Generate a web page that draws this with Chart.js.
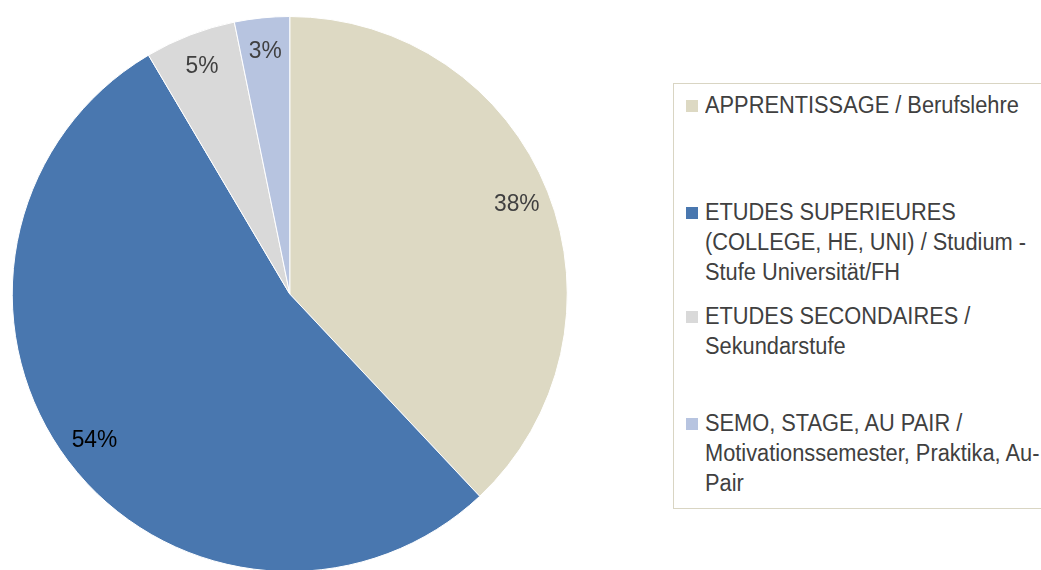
<!DOCTYPE html>
<html>
<head>
<meta charset="utf-8">
<script src="https://cdn.jsdelivr.net/npm/chart.js@4"></script>
<style>
  html, body { margin: 0; padding: 0; width: 1041px; height: 570px; overflow: hidden; background: #fff; }
  #wrap { position: absolute; left: 0; top: 0; width: 600px; height: 600px; }
  #legend { position: absolute; left: 673px; top: 83px; width: 390px; height: 424px;
            border: 1px solid #D9D5C3; box-sizing: content-box;
            font-family: "Liberation Sans", Arial, sans-serif; font-size: 23px; color: #404040; }
  .item { position: absolute; left: 0; width: 100%; }
  .sw { position: absolute; left: 12px; top: 10px; width: 12px; height: 12px; }
  .txt { position: absolute; left: 31px; top: 0; line-height: 30px; white-space: nowrap;
         transform: scaleX(0.948); transform-origin: 0 0; }
</style>
</head>
<body>
<div id="wrap"><canvas id="c"></canvas></div>
<div id="legend"></div>
<script>
// ---- data ----
const categories = [
  ["APPRENTISSAGE / Berufslehre"],
  ["ETUDES SUPERIEURES", "(COLLEGE, HE, UNI) / Studium -", "Stufe Universität/FH"],
  ["ETUDES SECONDAIRES /", "Sekundarstufe"],
  ["SEMO, STAGE, AU PAIR /", "Motivationssemester, Praktika, Au-", "Pair"]
];
const shares = [38.0, 53.5, 5.3, 3.2];
const shareLabels = ["38%", "54%", "5%", "3%"];

// ---- styles ----
const sliceColors = ["#DDD9C3", "#4977AF", "#D9D9D9", "#B7C4E0"];
const labelColors = ["#404040", "#000000", "#404040", "#404040"];
const legendTops = [6, 113, 217, 324];

const sliceLabels = {
  id: 'sliceLabels',
  afterDatasetsDraw(chart) {
    const ctx = chart.ctx;
    const meta = chart.getDatasetMeta(0);
    meta.data.forEach((arc, i) => {
      const p = arc.getProps(['x', 'y', 'startAngle', 'endAngle', 'outerRadius'], true);
      const mid = (p.startAngle + p.endAngle) / 2;
      const r = p.outerRadius * 0.88;
      const lx = p.x + Math.cos(mid) * r;
      const ly = p.y + Math.sin(mid) * r;
      ctx.save();
      ctx.translate(lx, ly);
      ctx.scale(0.93, 1);
      ctx.font = '24.5px "Liberation Sans", Arial, sans-serif';
      ctx.textAlign = 'center';
      ctx.textBaseline = 'middle';
      ctx.fillStyle = labelColors[i];
      ctx.fillText(shareLabels[i], 0, 0);
      ctx.restore();
    });
  }
};

const htmlLegend = {
  id: 'htmlLegend',
  afterUpdate(chart) {
    const box = document.getElementById('legend');
    box.innerHTML = '';
    chart.data.labels.forEach((lines, i) => {
      const item = document.createElement('div');
      item.className = 'item';
      item.style.top = legendTops[i] + 'px';
      const sw = document.createElement('div');
      sw.className = 'sw';
      sw.style.background = chart.data.datasets[0].backgroundColor[i];
      const txt = document.createElement('div');
      txt.className = 'txt';
      lines.forEach((ln, k) => {
        if (k) txt.appendChild(document.createElement('br'));
        txt.appendChild(document.createTextNode(ln));
      });
      item.appendChild(sw);
      item.appendChild(txt);
      box.appendChild(item);
    });
  }
};

new Chart(document.getElementById('c'), {
  type: 'pie',
  data: {
    labels: categories,
    datasets: [{
      data: shares,
      backgroundColor: sliceColors,
      borderColor: '#ffffff',
      borderWidth: 1
    }]
  },
  options: {
    responsive: true,
    maintainAspectRatio: false,
    animation: false,
    layout: { padding: { left: 11.5, right: 32, top: 16, bottom: 28 } },
    plugins: {
      legend: { display: false },
      tooltip: { enabled: false }
    }
  },
  plugins: [sliceLabels, htmlLegend]
});
</script>
</body>
</html>
